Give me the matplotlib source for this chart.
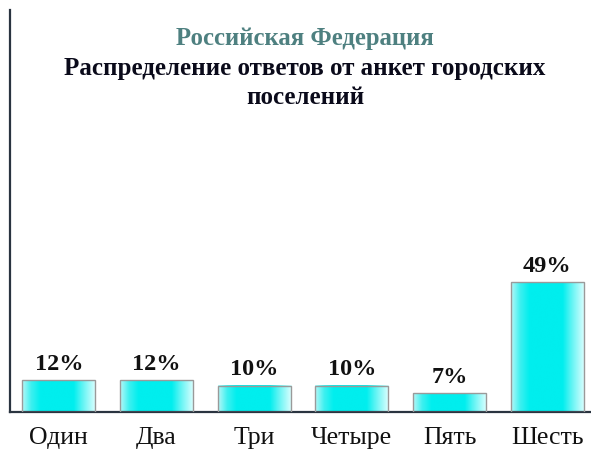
import matplotlib
matplotlib.use("Agg")
import matplotlib.pyplot as plt
import numpy as np
from matplotlib.colors import LinearSegmentedColormap

categories = ["Один", "Два", "Три", "Четыре", "Пять", "Шесть"]
values = [12, 12, 10, 10, 7, 49]
labels = ["12%", "12%", "10%", "10%", "7%", "49%"]

SERIF = ["Liberation Serif", "DejaVu Serif"]

fig = plt.figure(figsize=(5.91, 4.5), dpi=100)
ax = fig.add_axes([10/591, 38/450, 586/591, 402/450])
ax.set_xlim(-0.5, len(categories) - 0.5)
ax.set_ylim(0, 152)

x = np.arange(len(categories))
bars = ax.bar(x, values, width=0.75, facecolor="none", edgecolor="#9a9a9a",
              linewidth=1.0, zorder=3)

cmap = LinearSegmentedColormap.from_list(
    "cy", [(0.0, "#b8f8f8"), (0.12, "#40f0f0"), (0.25, "#00eeee"),
           (0.7, "#00eeee"), (0.82, "#60f4f4"), (1.0, "#e0ffff")])
grad = np.linspace(0, 1, 256).reshape(1, -1)
for b in bars:
    x0, w, h = b.get_x(), b.get_width(), b.get_height()
    ax.imshow(grad, cmap=cmap, aspect="auto", extent=(x0, x0 + w, 0, h),
              zorder=2, interpolation="bicubic")

for xi, v, lab in zip(x, values, labels):
    ax.text(xi, v + 2.0, lab, ha="center", va="bottom", fontsize=17.5,
            fontweight="bold", family=SERIF, color="#111111")

ax.set_xlim(-0.5, len(categories) - 0.5)
ax.set_ylim(0, 152)

for s in ["top", "right"]:
    ax.spines[s].set_visible(False)
ax.spines["left"].set_color("#2a3440")
ax.spines["bottom"].set_color("#2a3440")
ax.spines["left"].set_linewidth(1.6)
ax.spines["bottom"].set_linewidth(1.6)
ax.set_yticks([])
ax.set_xticks(x)
ax.set_xticklabels(categories, fontsize=18.5, family=SERIF, color="#111111")
ax.tick_params(axis="x", length=0, pad=11)

fig.text(0.516, 1 - 38/450, "Российская Федерация", ha="center", va="center",
         fontsize=17.8, fontweight="bold", family=SERIF, color="#4e8080")
fig.text(0.516, 1 - 68/450, "Распределение ответов от анкет городских", ha="center",
         va="center", fontsize=18, fontweight="bold", family=SERIF, color="#0a0a1a")
fig.text(0.516, 1 - 97/450, "поселений", ha="center", va="center",
         fontsize=18, fontweight="bold", family=SERIF, color="#0a0a1a")

fig.savefig("out.png", dpi=100, facecolor="white")
